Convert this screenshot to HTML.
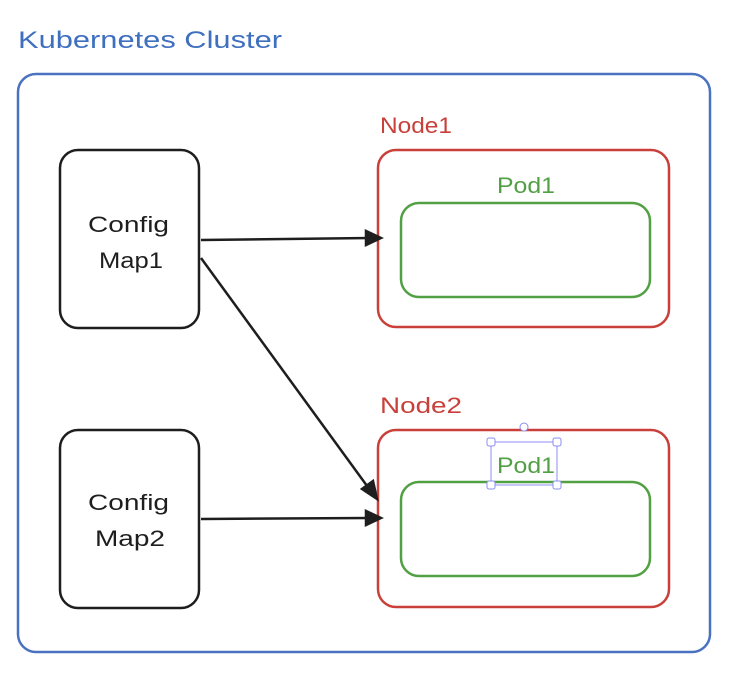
<!DOCTYPE html>
<html><head><meta charset="utf-8"><style>html,body{margin:0;padding:0;background:#fff;width:733px;height:674px;overflow:hidden}</style></head>
<body>
<svg width="733" height="674" viewBox="0 0 733 674" xmlns="http://www.w3.org/2000/svg" font-family="'Comic Sans MS','Liberation Sans',sans-serif">
<text x="18" y="48" font-size="24" fill="#3f6fbf" textLength="264" lengthAdjust="spacingAndGlyphs">Kubernetes Cluster</text>
<rect x="18" y="74" width="692" height="578" rx="18" fill="none" stroke="#4a72c0" stroke-width="2.5"/>
<rect x="60" y="150" width="139" height="178" rx="18" fill="none" stroke="#1e1e1e" stroke-width="2.5"/>
<rect x="60" y="430" width="139" height="178" rx="18" fill="none" stroke="#1e1e1e" stroke-width="2.5"/>
<text x="88" y="232" font-size="22" fill="#1e1e1e" textLength="81" lengthAdjust="spacingAndGlyphs">Config</text>
<text x="99" y="268" font-size="22" fill="#1e1e1e" textLength="64" lengthAdjust="spacingAndGlyphs">Map1</text>
<text x="88" y="510" font-size="22" fill="#1e1e1e" textLength="81" lengthAdjust="spacingAndGlyphs">Config</text>
<text x="95" y="546" font-size="22" fill="#1e1e1e" textLength="70" lengthAdjust="spacingAndGlyphs">Map2</text>
<text x="380" y="133" font-size="22" fill="#c9403a" textLength="72" lengthAdjust="spacingAndGlyphs">Node1</text>
<text x="380" y="413" font-size="22" fill="#c9403a" textLength="82" lengthAdjust="spacingAndGlyphs">Node2</text>
<rect x="378" y="150" width="291" height="177" rx="18" fill="none" stroke="#c9403a" stroke-width="2.5"/>
<rect x="378" y="430" width="291" height="177" rx="18" fill="none" stroke="#c9403a" stroke-width="2.5"/>
<rect x="401" y="203" width="249" height="94" rx="18" fill="none" stroke="#52a044" stroke-width="2.5"/>
<rect x="401" y="482" width="249" height="94" rx="18" fill="none" stroke="#52a044" stroke-width="2.5"/>
<text x="497" y="193" font-size="22" fill="#52a044" textLength="58" lengthAdjust="spacingAndGlyphs">Pod1</text>
<text x="497" y="473" font-size="22" fill="#52a044" textLength="58" lengthAdjust="spacingAndGlyphs">Pod1</text>
<rect x="491" y="442" width="66" height="43" fill="none" stroke="#8c8cf0" stroke-width="1"/>
<g fill="#fff" stroke="#8c8cf0" stroke-width="1">
<rect x="487" y="438" width="8" height="8" rx="2"/><rect x="553" y="438" width="8" height="8" rx="2"/>
<rect x="487" y="481" width="8" height="8" rx="2"/><rect x="553" y="481" width="8" height="8" rx="2"/>
<circle cx="524" cy="427" r="4"/></g>
<g stroke="#1e1e1e" stroke-width="2.5" fill="#1e1e1e">
<line x1="201" y1="240" x2="370" y2="238"/><polygon points="381,238 366,231 366,245"/>
<line x1="201" y1="519" x2="370" y2="518"/><polygon points="381,518 366,511 366,525"/>
<line x1="201" y1="258" x2="370" y2="490"/><polygon points="377,499 362,489 373,481"/>
</g>
</svg>
</body></html>
